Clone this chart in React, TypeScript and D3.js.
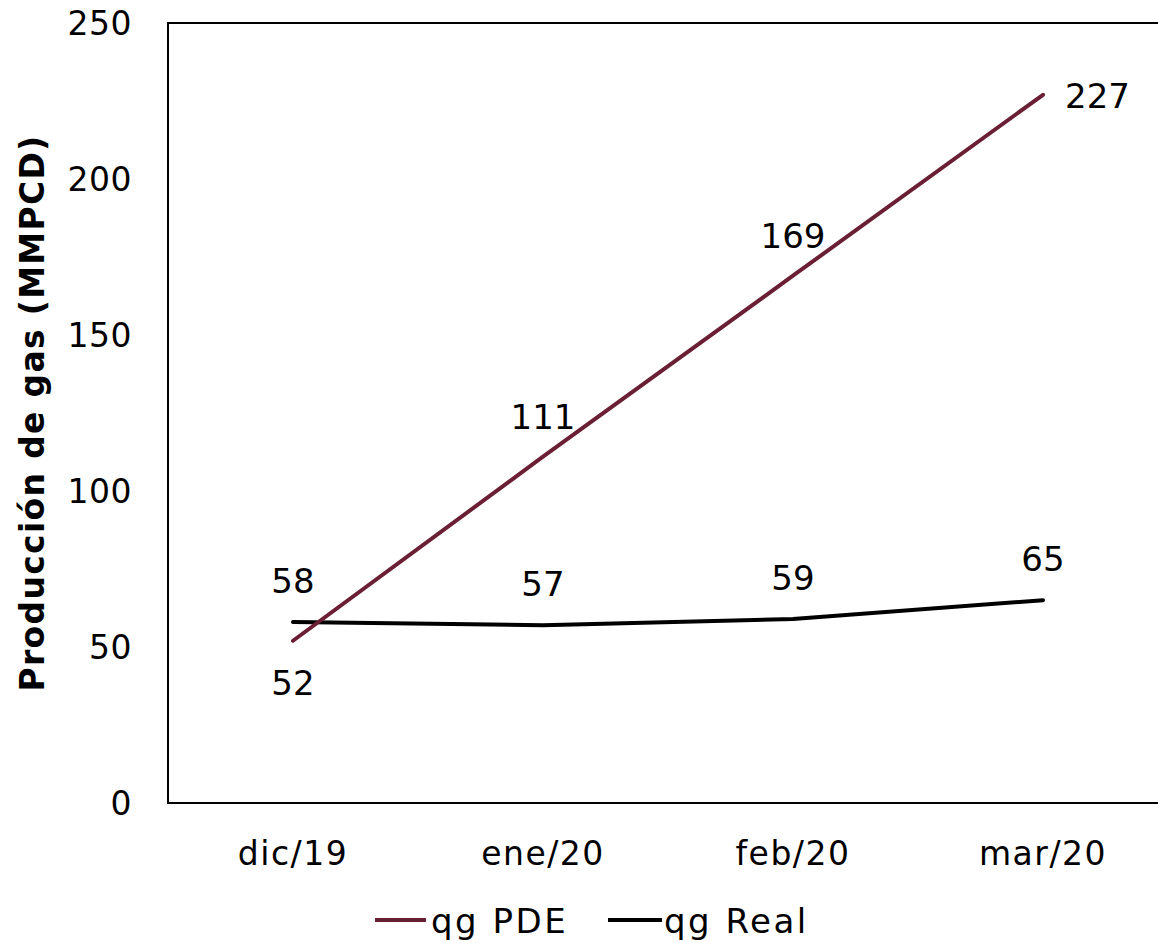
import React from "react";
import * as d3 from "d3";

const categories = ["dic/19", "ene/20", "feb/20", "mar/20"];
const pdeValues = [52, 111, 169, 227];
const realValues = [58, 57, 59, 65];
const yTicks = [0, 50, 100, 150, 200, 250];

const W = 1158;
const H = 943;
const FONT = "'DejaVu Sans', 'Noto Sans', sans-serif";
const PDE_COLOR = "#6B1F35";

export default function App() {
  const left = 168, top = 23, bottom = 803, right = 1168;
  const x = d3.scaleBand<string>().domain(categories).range([left, right]);
  const y = d3.scaleLinear().domain([0, 250]).range([bottom, top]);
  const cx = (c: string) => (x(c) as number) + x.bandwidth() / 2;
  const line = d3.line<number>().x((_, i) => cx(categories[i])).y((v) => y(v));

  return (
    <svg width={W} height={H} style={{ position: "absolute", left: 0, top: 0, background: "#fff" }} fontFamily={FONT}>
      <rect width={W} height={H} fill="#fff" />
      {/* axes frame */}
      <path d={`M${right},${top}H${left}V${bottom}H${right}`} fill="none" stroke="#000" strokeWidth={2} />
      {yTicks.map((t) => (
        <text key={t} x={132} y={y(t) + 12} textAnchor="end" fontSize={33} letterSpacing={0.5} fill="#000">{t}</text>
      ))}
      {categories.map((c) => (
        <text key={c} x={cx(c)} y={865} textAnchor="middle" fontSize={33} letterSpacing={1.5} fill="#000">{c}</text>
      ))}
      <text transform={`translate(44,${(top + bottom) / 2}) rotate(-90)`} textAnchor="middle" fontSize={33} letterSpacing={1.3} fontWeight="bold" fill="#000">Producción de gas (MMPCD)</text>
      <path d={line(realValues) || ""} fill="none" stroke="#000" strokeWidth={4} strokeLinecap="round" />
      <path d={line(pdeValues) || ""} fill="none" stroke={PDE_COLOR} strokeWidth={4} strokeLinecap="round" />
      {pdeValues.map((v, i) => {
        const px = cx(categories[i]);
        const py = y(v);
        let tx = px, ty = py - 28, anchor: "middle" | "start" = "middle";
        if (i === 0) { ty = py + 54; }
        if (i === 3) { tx = px + 22; ty = py + 13; anchor = "start"; }
        return <text key={"p" + i} x={tx} y={ty} textAnchor={anchor} fontSize={34} fill="#000">{v}</text>;
      })}
      {realValues.map((v, i) => (
        <text key={"r" + i} x={cx(categories[i])} y={y(v) - 29} textAnchor="middle" fontSize={34} fill="#000">{v}</text>
      ))}
      {/* legend */}
      <line x1={375} x2={426} y1={920} y2={920} stroke={PDE_COLOR} strokeWidth={4} />
      <text x={431} y={933} fontSize={34} letterSpacing={2.5} fill="#000">qg PDE</text>
      <line x1={608} x2={662} y1={920} y2={920} stroke="#000" strokeWidth={4} />
      <text x={664} y={933} fontSize={34} letterSpacing={2.5} fill="#000">qg Real</text>
    </svg>
  );
}
